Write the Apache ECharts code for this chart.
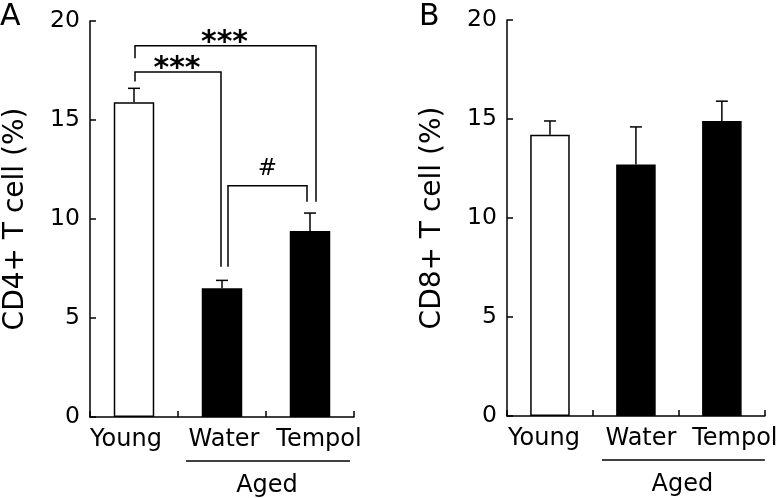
<!DOCTYPE html>
<html>
<head>
<meta charset="utf-8">
<script src="https://cdn.jsdelivr.net/npm/echarts@6/dist/echarts.min.js"></script>
<style>
html,body{margin:0;padding:0;background:#fff;}
#chart{width:780px;height:498px;}
</style>
</head>
<body>
<div id="chart"></div>
<script>
// ---- data ----
const categories = ['Young', 'Water', 'Tempol'];
const groupLabel = 'Aged';
const cd4Mean = [15.9, 6.5, 9.4];
const cd4Err = [0.7, 0.4, 0.9];
const cd8Mean = [14.2, 12.7, 14.9];
const cd8Err = [0.7, 1.9, 1.0];
const yMin = 0, yMax = 20, yStep = 5;
const yNameA = 'CD4+ T cell (%)';
const yNameB = 'CD8+ T cell (%)';
// significance brackets for panel A: [fromCat, toCat, yTop, yLeftEnd, yRightEnd, label]
const cd4Brackets = [
  [0, 2, 18.75, 18.12, 10.87, '***'],
  [0, 1, 17.42, 16.95, 7.59, '***'],
  [1, 2, 11.68, 7.59, 10.87, '#']
];

// ---- styles ----
const FONT = 'DejaVu Sans';
const fills = ['#ffffff', '#000000', '#000000'];
const LW = 1.5;
// bracket horizontal pixel nudges [left, right]
const bracketNudge = [[1, 6], [1, -1], [6, -3]];
// horizontal pixel shift of each category label
const labelShiftA = [-8, 2, 9];
const labelShiftB = [-6, 5, 13];

const chart = echarts.init(document.getElementById('chart'), null, {renderer: 'canvas'});

function yAxisCfg(gridIndex, name) {
  return {
    type: 'value', gridIndex, min: yMin, max: yMax, interval: yStep,
    name, nameLocation: 'middle', nameGap: 60, nameRotate: 90,
    nameTextStyle: {fontFamily: FONT, fontSize: 28, color: '#000'},
    axisLine: {show: true, lineStyle: {color: '#000', width: LW}},
    axisTick: {show: true, inside: true, length: 6, lineStyle: {color: '#000', width: LW}},
    axisLabel: {fontFamily: FONT, fontSize: 23.5, color: '#000', margin: 10},
    splitLine: {show: false}
  };
}
function xAxisCfg(gridIndex, shifts) {
  const rich = {};
  shifts.forEach((s, i) => {
    rich['s' + i] = {fontFamily: FONT, fontSize: 24, color: '#000',
      padding: s < 0 ? [0, -2 * s, 0, 0] : [0, 0, 0, 2 * s]};
  });
  return {
    type: 'category', gridIndex, data: categories, boundaryGap: true,
    axisLine: {show: true, onZero: false, lineStyle: {color: '#000', width: LW}},
    axisTick: {show: true, inside: true, length: 6, alignWithLabel: false, lineStyle: {color: '#000', width: LW}},
    axisLabel: {fontFamily: FONT, fontSize: 24, color: '#000', margin: 11, interval: 0,
      formatter: (v, i) => '{s' + i + '|' + v + '}', rich},
    splitLine: {show: false}
  };
}

function barSeries(idx, values) {
  return {
    type: 'bar', xAxisIndex: idx, yAxisIndex: idx, barWidth: '46%',
    data: values.map((v, i) => ({value: v, itemStyle: {color: fills[i], borderColor: '#000', borderWidth: LW}})),
    silent: true, animation: false, z: 2
  };
}

function errSeries(idx, means, errs) {
  return {
    type: 'custom', xAxisIndex: idx, yAxisIndex: idx, clip: false, animation: false, silent: true, z: 3,
    data: means.map((m, i) => [i, m, errs[i]]),
    encode: {x: 0, y: 1},
    renderItem(params, api) {
      const base = api.coord([api.value(0), api.value(1)]);
      const top = api.coord([api.value(0), api.value(1) + api.value(2)]);
      const st = {stroke: '#000', lineWidth: LW};
      return {type: 'group', children: [
        {type: 'line', shape: {x1: base[0], y1: base[1], x2: top[0], y2: top[1]}, style: st},
        {type: 'line', shape: {x1: top[0] - 6, y1: top[1], x2: top[0] + 6, y2: top[1]}, style: st}
      ]};
    }
  };
}

function groupSeries(idx, nudgeL, nudgeR) {
  return {
    type: 'custom', xAxisIndex: idx, yAxisIndex: idx, clip: false, animation: false, silent: true,
    data: [[1, 2]],
    renderItem(params, api) {
      const a = api.coord([api.value(0), 0]);
      const b = api.coord([api.value(1), 0]);
      const band = api.size([1, 0])[0];
      const x1 = a[0] - band / 2 + nudgeL, x2 = b[0] + band / 2 + nudgeR;
      return {type: 'group', children: [
        {type: 'line', shape: {x1, y1: a[1] + 44, x2, y2: a[1] + 44}, style: {stroke: '#000', lineWidth: LW}},
        {type: 'text', x: (x1 + x2) / 2 - 1, y: a[1] + 69,
         style: {text: groupLabel, fontFamily: FONT, fontSize: 24, fill: '#000', align: 'center', verticalAlign: 'middle'}}
      ]};
    }
  };
}

function bracketSeries(idx) {
  return {
    type: 'custom', xAxisIndex: idx, yAxisIndex: idx, clip: false, animation: false, silent: true, z: 4,
    data: cd4Brackets.map((b, i) => [b[0], b[1], b[2], b[3], b[4], i]),
    renderItem(params, api) {
      const i = api.value(5);
      const lbl = cd4Brackets[i][5];
      const nd = bracketNudge[i];
      const pL = api.coord([api.value(0), api.value(2)]);
      const pR = api.coord([api.value(1), api.value(2)]);
      const yL = api.coord([api.value(0), api.value(3)])[1];
      const yR = api.coord([api.value(1), api.value(4)])[1];
      const xL = pL[0] + nd[0], xR = pR[0] + nd[1];
      const st = {stroke: '#000', lineWidth: LW, fill: null};
      const isStar = lbl.indexOf('*') >= 0;
      return {type: 'group', children: [
        {type: 'polyline', shape: {points: [[xL, yL], [xL, pL[1]], [xR, pL[1]], [xR, yR]]}, style: st},
        {type: 'text', x: (xL + xR) / 2 + (isStar ? -1 : 0), y: pL[1] - (isStar ? 3 : 17),
         style: {text: lbl, fontFamily: FONT, fontSize: isStar ? 30 : 23, fontWeight: isStar ? 'bold' : 'normal',
           fill: '#000', align: 'center', verticalAlign: 'middle'}}
      ]};
    }
  };
}

chart.setOption({
  animation: false,
  grid: [
    {left: 90, top: 21, right: 426, bottom: 81},
    {left: 507, top: 20, right: 12, bottom: 82}
  ],
  xAxis: [xAxisCfg(0, labelShiftA), xAxisCfg(1, labelShiftB)],
  yAxis: [yAxisCfg(0, yNameA), yAxisCfg(1, yNameB)],
  graphic: [
    {type: 'text', left: 0, top: 2, style: {text: 'A', fontFamily: FONT, fontSize: 30, fill: '#000'}},
    {type: 'text', left: 419, top: 2, style: {text: 'B', fontFamily: FONT, fontSize: 30, fill: '#000'}}
  ],
  series: [
    barSeries(0, cd4Mean), errSeries(0, cd4Mean, cd4Err), groupSeries(0, 8, -4), bracketSeries(0),
    barSeries(1, cd8Mean), errSeries(1, cd8Mean, cd8Err), groupSeries(1, 9, 0)
  ]
});
</script>
</body>
</html>
